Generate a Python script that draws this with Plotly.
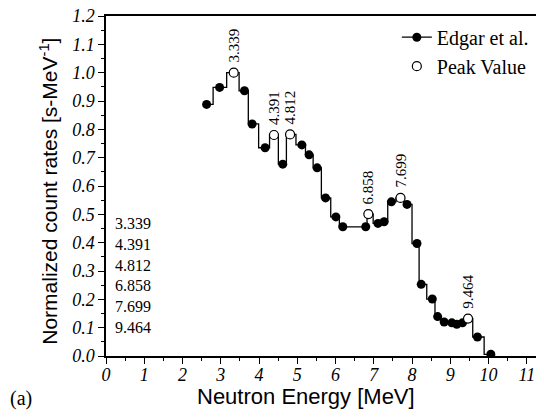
import plotly.graph_objects as go

# neutron energy [MeV] and normalized count rates
energy = [2.63, 2.97, 3.339, 3.62, 3.82, 4.16, 4.391, 4.62, 4.812, 5.12, 5.31, 5.52,
          5.74, 6.01, 6.19, 6.79, 6.858, 7.11, 7.27, 7.46, 7.699, 7.87, 8.13, 8.24,
          8.53, 8.67, 8.84, 9.04, 9.17, 9.32, 9.464, 9.71, 10.06]
counts = [0.888, 0.948, 1.000, 0.936, 0.819, 0.735, 0.780, 0.677, 0.782, 0.745, 0.710, 0.664,
          0.558, 0.491, 0.456, 0.456, 0.501, 0.468, 0.474, 0.544, 0.558, 0.535, 0.397, 0.253,
          0.201, 0.139, 0.120, 0.117, 0.112, 0.117, 0.132, 0.067, 0.006]

# peak values
peak_energy = [3.339, 4.391, 4.812, 6.858, 7.699, 9.464]
peak_counts = [1.000, 0.780, 0.782, 0.501, 0.558, 0.132]
peak_labels = ["3.339", "4.391", "4.812", "6.858", "7.699", "9.464"]

y_ticks = [0.0, 0.1, 0.2, 0.3, 0.4, 0.5, 0.6, 0.7, 0.8, 0.9, 1.0, 1.1, 1.2]
x_ticks = [0, 1, 2, 3, 4, 5, 6, 7, 8, 9, 10, 11]

serif = "Liberation Serif"
sans = "Liberation Sans"

fig = go.Figure()
fig.add_trace(go.Scatter(
    x=energy, y=counts, mode="lines+markers", name="Edgar et al.",
    line=dict(color="black", width=1.3, shape="hvh"),
    marker=dict(symbol="circle", size=9, color="black"),
))
fig.add_trace(go.Scatter(
    x=peak_energy, y=peak_counts, mode="markers", name="Peak Value",
    marker=dict(symbol="circle", size=9, color="white", line=dict(color="black", width=1.2)),
))

# rotated labels above each peak
for px, py, lab in zip(peak_energy, peak_counts, peak_labels):
    fig.add_annotation(x=px, y=py, text=lab, showarrow=False, textangle=-90,
                       xanchor="center", yanchor="middle", yshift=27,
                       font=dict(family=serif, size=15, color="black"))

# list of peak energies on the left
fig.add_annotation(x=0.015, y=0.421, xref="paper", yref="paper", text="<br>".join(peak_labels),
                   showarrow=False, xanchor="left", yanchor="top", align="left",
                   font=dict(family=serif, size=16, color="black"))

# axis titles
fig.add_annotation(x=0.457, y=-0.12, xref="paper", yref="paper", text="Neutron Energy [MeV]",
                   showarrow=False, xanchor="center", yanchor="middle",
                   font=dict(family=sans, size=22, color="black"))
fig.add_annotation(x=-0.131, y=0.485, xref="paper", yref="paper", textangle=-90,
                   text="Normalized count rates [s-MeV<sup>-1</sup>]",
                   showarrow=False, xanchor="center", yanchor="middle",
                   font=dict(family=sans, size=21, color="black"))
fig.add_annotation(x=-0.2237, y=-0.124, xref="paper", yref="paper", text="(a)",
                   showarrow=False, xanchor="left", yanchor="middle",
                   font=dict(family=serif, size=20, color="black"))

# page has an 8px body margin, so the figure is 8px smaller than the window
fig.update_layout(
    width=536, height=410,
    margin=dict(l=98, r=0, t=8, b=62),
    paper_bgcolor="white", plot_bgcolor="white",
    showlegend=True,
    legend=dict(x=0.664, y=0.995, xanchor="left", yanchor="top",
                bgcolor="rgba(0,0,0,0)", font=dict(family=serif, size=20, color="black"),
                tracegroupgap=0),
    xaxis=dict(
        range=[0, 11.45], tickmode="array", tickvals=x_ticks,
        ticktext=["<i>%d</i>" % v for v in x_ticks], automargin=False,
        ticks="outside", ticklen=6, tickwidth=1.2, tickcolor="black",
        minor=dict(dtick=0.5, ticks="outside", ticklen=3, tickcolor="black", tickwidth=1.2),
        showline=True, linecolor="black", linewidth=1.6, mirror=True,
        showgrid=False, zeroline=False, ticklabelstandoff=-4, ticklabeloverflow="allow",
        tickfont=dict(family=serif, size=18, color="black"),
    ),
    yaxis=dict(
        range=[0, 1.2], tickmode="array", tickvals=y_ticks,
        ticktext=["<i>%.1f</i>" % v for v in y_ticks], automargin=False,
        ticks="outside", ticklen=6, tickwidth=1.2, tickcolor="black",
        minor=dict(dtick=0.05, ticks="outside", ticklen=3, tickcolor="black", tickwidth=1.2),
        showline=True, linecolor="black", linewidth=1.5,
        showgrid=False, zeroline=False, ticklabeloverflow="allow",
        tickfont=dict(family=serif, size=18, color="black"),
    ),
)

fig.write_html("out.html")
